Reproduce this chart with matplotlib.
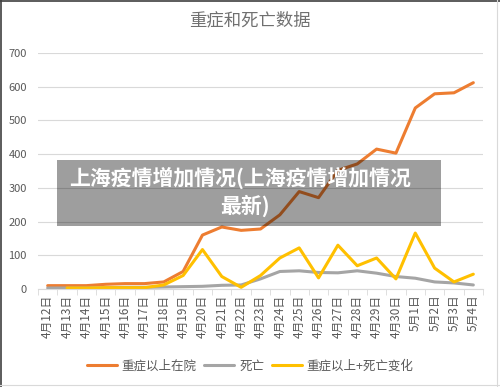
import matplotlib
matplotlib.use('Agg')
import matplotlib.pyplot as plt
import numpy as np

plt.rcParams['font.family'] = ['Noto Sans CJK SC', 'DejaVu Sans']

dates = ['4月12日', '4月13日', '4月14日', '4月15日', '4月16日', '4月17日', '4月18日',
         '4月19日', '4月20日', '4月21日', '4月22日', '4月23日', '4月24日', '4月25日',
         '4月26日', '4月27日', '4月28日', '4月29日', '4月30日', '5月1日', '5月2日',
         '5月3日', '5月4日']
severe = [10, 10, 10, 14, 16, 16, 21, 52, 160, 184, 174, 178, 220, 289, 271,
          352, 371, 415, 403, 537, 579, 582, 612]
deaths = [3, 3, 3, 4, 5, 5, 6, 7, 8, 11, 12, 30, 52, 54, 49, 48, 54, 47, 37,
          32, 21, 18, 12]
change = [np.nan, 3, 3, 4, 4, 4, 12, 40, 117, 37, 5, 40, 92, 122, 33, 130, 69,
          92, 30, 166, 62, 21, 44]

x = np.arange(len(dates))

fig = plt.figure(figsize=(5, 3.87), dpi=100)
ax = fig.add_axes([0.076, 0.2532, 0.89, 0.6098])

ax.plot(x, severe, color='#ED7D31', lw=2.2, label='重症以上在院', solid_capstyle='round')
ax.plot(x, deaths, color='#A5A5A5', lw=2.2, label='死亡', solid_capstyle='round')
ax.plot(x, change, color='#FFC000', lw=2.2, label='重症以上+死亡变化', solid_capstyle='round')

ax.set_xlim(-0.5, len(dates) - 0.5)
ax.set_ylim(0, 700)
ax.set_yticks(range(0, 701, 100))
ax.yaxis.grid(True, color='#d9d9d9', lw=0.8)
ax.set_axisbelow(True)
for s in ['top', 'right', 'left']:
    ax.spines[s].set_visible(False)
ax.spines['bottom'].set_color('#d9d9d9')

ax.set_xticks(x)
ax.set_xticklabels(dates, rotation=90, fontsize=8.5, color='#595959')
ax.set_xticks(np.arange(-0.5, len(dates)), minor=True)
ax.tick_params(axis='x', which='major', length=0, pad=4)
ax.tick_params(axis='x', which='minor', length=4, color='#d9d9d9')
ax.tick_params(axis='y', length=0, labelsize=8, labelcolor='#595959', pad=8)

fig.text(0.5, 0.948, '重症和死亡数据', ha='center', va='center', fontsize=12.5, color='#707070')

fig.legend(loc='center', bbox_to_anchor=(0.5, 0.054), ncol=3, frameon=False,
           fontsize=9, handlelength=2.4, columnspacing=0.6, handletextpad=0.4,
           labelcolor='#595959')

# overlay banner
fig.patches.append(plt.Rectangle((57 / 500, 1 - 226 / 387), 384 / 500, 66 / 387,
                                 transform=fig.transFigure, facecolor='black',
                                 alpha=0.38, edgecolor='none', zorder=5))
fig.text(240 / 500, 1 - 178 / 387, '上海疫情增加情况(上海疫情增加情况', ha='center', va='center',
         fontsize=15, color='white', fontweight='bold', zorder=6)
fig.text(245 / 500, 1 - 206 / 387, '最新)', ha='center', va='center',
         fontsize=15, color='white', fontweight='bold', zorder=6)

# chart frame
fig.add_artist(plt.Line2D([0, 1], [0.998, 0.998], color='#404040', lw=1.2))
fig.add_artist(plt.Line2D([0.002, 0.002], [0, 1], color='#404040', lw=1.2))
fig.add_artist(plt.Line2D([0.993, 0.993], [0, 1], color='#d9d9d9', lw=0.8))
fig.add_artist(plt.Line2D([0, 1], [0.006, 0.006], color='#d9d9d9', lw=0.8))

plt.savefig('out.png', dpi=100)
